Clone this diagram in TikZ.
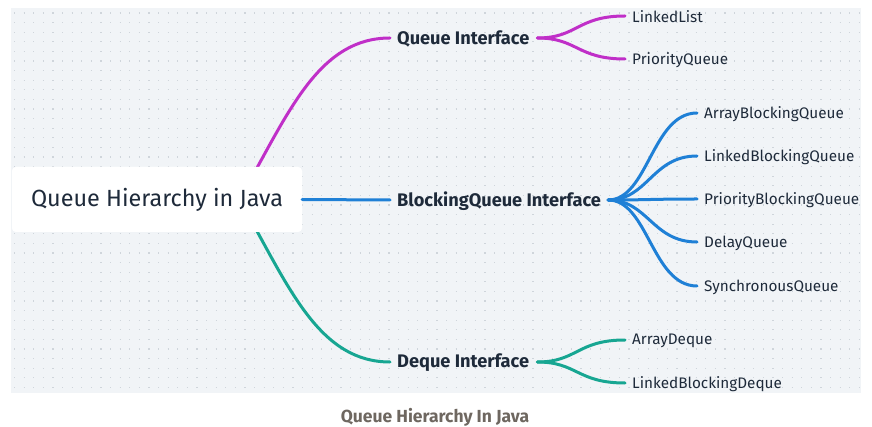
\documentclass[tikz,border=0pt]{standalone}
\usepackage{fontspec}
\setmainfont{Fira Sans}
\usetikzlibrary{calc}
\definecolor{panel}{HTML}{F1F4F7}
\definecolor{dotc}{HTML}{CFD5DB}
\definecolor{ink}{HTML}{1E2A3A}
\definecolor{cpur}{HTML}{C02FC8}
\definecolor{cblue}{HTML}{1F80D6}
\definecolor{cteal}{HTML}{17A692}
\definecolor{capc}{HTML}{6E6760}
\tikzset{
  rootbox/.style={fill=white, rounded corners=4pt, minimum width=290pt, minimum height=65pt, inner sep=0pt, text=ink, font=\fontsize{23.4}{26}\selectfont},
  iface/.style={inner sep=0pt, anchor=west, text=ink, font=\fontsize{18.2}{21}\selectfont\bfseries},
  leaf/.style={inner sep=0pt, anchor=west, text=ink, font=\fontsize{15.3}{18}\selectfont},
  conn/.style={line width=3pt, line cap=round},
}
\begin{document}
\begin{tikzpicture}[x=1pt,y=-1pt]
\useasboundingbox (0,0) rectangle (872,427);
\fill[panel] (11,8) rectangle (861,393);
\foreach \yy in {13,22.6,...,390} {
  \draw[dotc, line width=1.1pt, dash pattern=on 1.1pt off 8.5pt] (14,\yy) -- (860,\yy);
}
% nodes
\node[rootbox] (root) at (157,199.5) {Queue Hierarchy in Java};
\node[iface] (qi) at (397,39) {Queue Interface};
\node[iface] (bi) at (397,201) {BlockingQueue Interface};
\node[iface] (di) at (397,363) {Deque Interface};
\node[leaf] (l1) at (632,17) {LinkedList};
\node[leaf] (l2) at (632,60) {PriorityQueue};
\node[leaf] (b1) at (704,114) {ArrayBlockingQueue};
\node[leaf] (b2) at (704,157) {LinkedBlockingQueue};
\node[leaf] (b3) at (704,200) {PriorityBlockingQueue};
\node[leaf] (b4) at (704,243) {DelayQueue};
\node[leaf] (b5) at (704,287) {SynchronousQueue};
\node[leaf] (d1) at (632,341) {ArrayDeque};
\node[leaf] (d2) at (632,384) {LinkedBlockingDeque};
\node[text=capc, font=\fontsize{17.5}{20}\selectfont\bfseries] (cap) at (435,417) {Queue Hierarchy In Java};
% root connectors (drawn behind box)
\coordinate (rs1) at ($(root.center)+(88,-10)$);
\coordinate (rs3) at ($(root.center)+(88,10)$);
\draw[conn, cpur] (rs1) .. controls +(45,-80) and +(-70,0) .. ($(qi.west)+(-7,-1)$);
\draw[conn, cteal] (rs3) .. controls +(45,80) and +(-70,0) .. ($(di.west)+(-7,-1)$);
\node[rootbox] (rootc) at (root.center) {Queue Hierarchy in Java};
\draw[conn, cblue] (root.east) -- ($(bi.west)+(-7,-1)$);
% forks
\foreach \t in {l1,l2} {
  \draw[conn, cpur] ($(qi.east)+(8,-1)$) .. controls +(40,0) and +(-48,0) .. ($(\t.west)+(-7,-1)$);
}
\foreach \t in {b1,b2,b3,b4,b5} {
  \draw[conn, cblue] ($(bi.east)+(7,-1)$) .. controls +(40,0) and +(-45,0) .. ($(\t.west)+(-7,-1)$);
}
\foreach \t in {d1,d2} {
  \draw[conn, cteal] ($(di.east)+(8,-1)$) .. controls +(40,0) and +(-48,0) .. ($(\t.west)+(-7,-1)$);
}
\end{tikzpicture}
\end{document}
